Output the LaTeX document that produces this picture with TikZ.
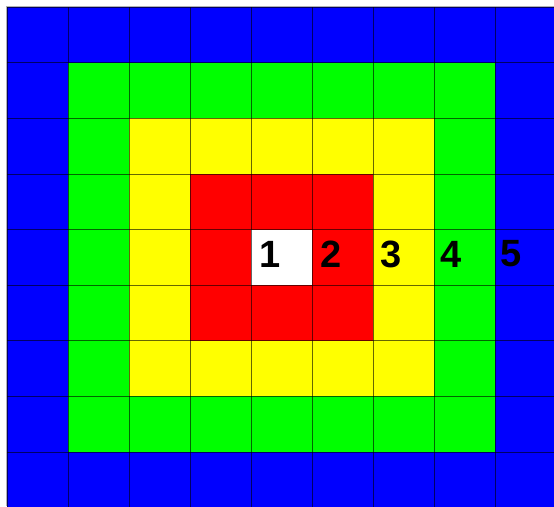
\documentclass[tikz,border=0pt]{standalone}
\usepackage{fontspec}
\setmainfont{Liberation Sans}
\definecolor{ringblue}{RGB}{0,0,255}
\definecolor{ringgreen}{RGB}{0,255,0}
\definecolor{ringyellow}{RGB}{255,255,0}
\definecolor{ringred}{RGB}{255,0,0}

\begin{document}
\begin{tikzpicture}[
    x=1pt, y=-1pt,
    gridline/.style={black, opacity=0.6, line width=0.7pt},
    edgeline/.style={gray!60, line width=1pt},
    num/.style={font=\fontsize{38}{38}\selectfont\bfseries, text=black, inner sep=0pt}
]
\useasboundingbox (0,0) rectangle (554,506);
\clip (0,0) rectangle (554,506);
\fill[white] (0,0) rectangle (554,506);

% Rings, outside in
\fill[ringblue] (7,7) rectangle (556,507.6);
\fill[ringgreen] (68,62.6) rectangle (495,452);
\fill[ringyellow] (129,118.25) rectangle (434,396.4);
\fill[ringred] (190,173.9) rectangle (373,340.75);
\fill[white] (251,229.5) rectangle (312,285.1);

% Cell grid
\foreach \i in {0,...,9} {
    \draw[gridline] (7+61*\i, 7) -- (7+61*\i, 508);
}
\foreach \j in {0,...,9} {
    \draw[gridline] (7, 7+55.625*\j) -- (556, 7+55.625*\j);
}

% Outer edge
\draw[edgeline] (6,506) -- (6,6) -- (554,6);

% Ring numbers
\node[num] (n1) at (270,254) {1};
\node[num] (n2) at (331,254) {2};
\node[num] (n3) at (391,254) {3};
\node[num] (n4) at (451.5,254) {4};
\node[num] (n5) at (511,254) {5};

\end{tikzpicture}
\end{document}
